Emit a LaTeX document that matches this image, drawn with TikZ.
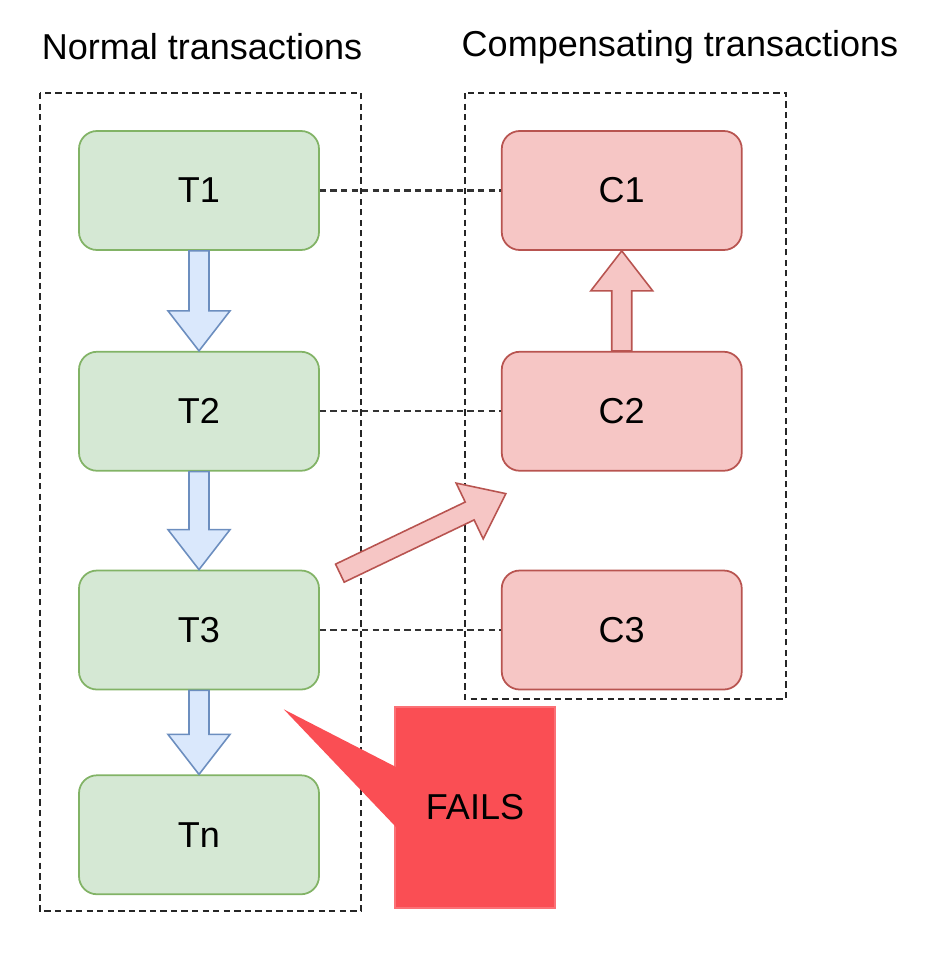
\documentclass[tikz,border=0pt]{standalone}
\usepackage{fontspec}
\setmainfont{Liberation Sans}
\usetikzlibrary{positioning,calc}
\definecolor{tfill}{HTML}{D5E8D4}
\definecolor{tline}{HTML}{82B366}
\definecolor{cfill}{HTML}{F6C6C5}
\definecolor{cline}{HTML}{B85450}
\definecolor{afill}{HTML}{DAE8FC}
\definecolor{aline}{HTML}{6C8EBF}
\definecolor{failred}{RGB}{250,78,84}
\newcommand\blockarrow[3]{\draw[#1] let \p1=(#2), \p2=(#3), \n1={atan2(\y2-\y1,\x2-\x1)}, \n2={veclen(\x2-\x1,\y2-\y1)} in
    ($(\p1)+(\n1+90:0.2)$) -- ++(\n1:{\n2-0.8cm}) -- ++(\n1+90:0.42) -- (\p2)
    -- ($(\p2)+(\n1+180:0.8)+(\n1-90:0.62)$) -- ++(\n1+90:0.42) -- ($(\p1)+(\n1-90:0.2)$) -- cycle;}

\begin{document}
\begin{tikzpicture}[
    font=\fontsize{20.5}{24}\selectfont,
    tbox/.style={rectangle,rounded corners=0.36cm,draw=tline,fill=tfill,line width=1pt,
        minimum width=4.8cm,minimum height=2.38cm},
    cbox/.style={tbox,draw=cline,fill=cfill},
    groupbox/.style={draw=black!85,line width=1.3pt,dash pattern=on 3.6pt off 2.4pt},
    link/.style={draw=black!80,line width=1.3pt,dash pattern=on 3.6pt off 2.4pt},
    bluearrow/.style={draw=aline,fill=afill,line width=0.9pt,line join=miter},
    redarrow/.style={draw=cline,fill=cfill,line width=0.9pt,line join=miter},
    failbox/.style={rectangle,fill=failred,draw=failred!80!white,line width=0.6pt,
        minimum width=3.2cm,minimum height=4.02cm}]
    \useasboundingbox (0,0) rectangle (18.6,-19.16);

    % titles and groups
    \node (normal) at (4.04,-0.94) {Normal transactions};
    \node (comp) at (13.6,-0.94) {Compensating transactions};
    \draw[groupbox] (0.8,-1.86) rectangle (7.22,-18.22);
    \draw[groupbox] (9.3,-1.86) rectangle (15.72,-13.98);

    % normal transactions
    \node[tbox] (t1) at (3.98,-3.81) {T1};
    \node[tbox,below=2cm of t1] (t2) {T2};
    \node[tbox,below=1.96cm of t2] (t3) {T3};
    \node[tbox,below=1.68cm of t3] (tn) {Tn};

    % compensating transactions
    \node[cbox,right=3.62cm of t1] (c1) {C1};
    \node[cbox,right=3.62cm of t2] (c2) {C2};
    \node[cbox,right=3.62cm of t3] (c3) {C3};

    \draw[link] (t1) -- (c1);
    \draw[link] (t2) -- (c2);
    \draw[link] (t3) -- (c3);

    \blockarrow{bluearrow}{t1.south}{t2.north}
    \blockarrow{bluearrow}{t2.south}{t3.north}
    \blockarrow{bluearrow}{t3.south}{tn.north}
    \blockarrow{redarrow}{c2.north}{c1.south}

    \coordinate (fromt3) at ($(t3.north east)+(0.4,-0.07)$);
    \coordinate (toc2) at ($(c2.south west)+(0.1,-0.44)$);
    \blockarrow{redarrow}{fromt3}{toc2}

    % failure callout
    \coordinate (failtip) at ($(t3.south east)+(-0.72,-0.38)$);
    \node[failbox] (fails) at (9.5,-16.15) {FAILS};
    \fill[failred] ($(fails.west)+(0.03,-0.39)$) -- (failtip) -- ($(fails.west)+(0.03,0.81)$) -- cycle;
\end{tikzpicture}
\end{document}
